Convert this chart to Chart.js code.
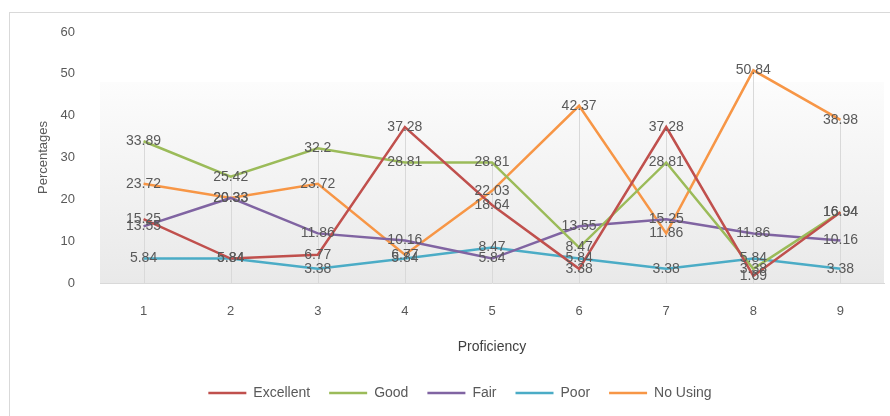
<!DOCTYPE html>
<html>
<head>
<meta charset="utf-8">
<script src="https://cdn.jsdelivr.net/npm/chart.js@4"></script>
<style>
  html, body { margin:0; padding:0; background:#fff; }
  #wrap { position:relative; width:890px; height:416px; overflow:hidden; }
  #frame { position:absolute; left:9px; top:12px; width:900px; height:420px; border:1px solid #d9d9d9; box-sizing:border-box; }
  #ch-prof { position:absolute; left:0; top:0; }
</style>
</head>
<body>
<div id="wrap">
  <div id="frame"></div>
  <canvas id="ch-prof" width="890" height="416"></canvas>
</div>
<script>
// ====================== DATA ======================
const levels    = ['1','2','3','4','5','6','7','8','9'];
const excellent = [15.25, 5.84, 6.77, 37.28, 18.64, 3.38, 37.28, 1.69, 16.94];
const good      = [33.89, 25.42, 32.2, 28.81, 28.81, 8.47, 28.81, 3.38, 16.94];
const fair      = [13.55, 20.33, 11.86, 10.16, 5.84, 13.55, 15.25, 11.86, 10.16];
const poor      = [5.84, 5.84, 3.38, 5.84, 8.47, 5.84, 3.38, 5.84, 3.38];
const noUsing   = [23.72, 20.33, 23.72, 6.77, 22.03, 42.37, 11.86, 50.84, 38.98];

const FONT = "'Liberation Sans', Arial, sans-serif";
const GREY = '#595959';

// gradient wall behind the plot
const wallPlugin = {
  id: 'wall',
  beforeDraw(chart) {
    const { ctx, chartArea: a } = chart;
    const g = ctx.createLinearGradient(0, a.top, 0, a.bottom);
    g.addColorStop(0, '#ffffff');
    g.addColorStop(0.2, '#fcfcfc');
    g.addColorStop(1, '#e9e9e9');
    ctx.save();
    ctx.fillStyle = g;
    ctx.fillRect(a.left, a.top + 50, a.right - a.left, a.bottom - a.top - 50);
    ctx.restore();
  }
};

// vertical drop lines from the highest value of each category
const dropPlugin = {
  id: 'drops',
  beforeDatasetsDraw(chart) {
    const { ctx, scales: { x, y } } = chart;
    ctx.save();
    ctx.strokeStyle = '#d9d9d9';
    ctx.lineWidth = 1;
    levels.forEach((lv, i) => {
      const top = Math.max(...chart.data.datasets.map(d => d.data[i]));
      const px = Math.round(x.getPixelForValue(i)) + 0.5;
      ctx.beginPath();
      ctx.moveTo(px, y.getPixelForValue(top));
      ctx.lineTo(px, y.getPixelForValue(0));
      ctx.stroke();
    });
    ctx.restore();
  }
};

// value labels centred on each point
const labelPlugin = {
  id: 'valueLabels',
  afterDatasetsDraw(chart) {
    const { ctx } = chart;
    ctx.save();
    ctx.font = '14px ' + FONT;
    ctx.fillStyle = GREY;
    ctx.textAlign = 'center';
    ctx.textBaseline = 'middle';
    chart.data.datasets.forEach((ds, di) => {
      chart.getDatasetMeta(di).data.forEach((pt, i) => {
        ctx.fillText(String(ds.data[i]), pt.x, pt.y);
      });
    });
    ctx.restore();
  }
};

const mk = (label, data, color) => ({
  label, data, borderColor: color, backgroundColor: color,
  borderWidth: 2.5, pointRadius: 0, tension: 0, fill: false
});

new Chart(document.getElementById('ch-prof'), {
  type: 'line',
  data: {
    labels: levels,
    datasets: [
      mk('Excellent', excellent, '#C0504D'),
      mk('Good', good, '#9BBB59'),
      mk('Fair', fair, '#8064A2'),
      mk('Poor', poor, '#4BACC6'),
      mk('No Using', noUsing, '#F79646')
    ]
  },
  options: {
    responsive: false,
    animation: false,
    layout: { padding: { left: 36, right: 6, top: 32, bottom: 6 } },
    plugins: {
      tooltip: { enabled: false },
      legend: {
        position: 'bottom',
        labels: {
          usePointStyle: true, pointStyle: 'line', pointStyleWidth: 38,
          boxHeight: 14, padding: 19,
          color: GREY, font: { family: FONT, size: 14 }
        }
      }
    },
    scales: {
      x: {
        offset: true,
        grid: { display: true, drawOnChartArea: false, drawTicks: false },
        border: { color: '#d9d9d9' },
        ticks: { color: GREY, font: { family: FONT, size: 13 }, padding: 21 },
        title: { display: true, text: 'Proficiency', color: '#404040', font: { family: FONT, size: 14 }, padding: { top: 16, bottom: 11 } },
        afterFit: s => { s.height = 84; }
      },
      y: {
        min: 0, max: 60,
        grid: { display: false },
        border: { display: false },
        ticks: { stepSize: 10, color: GREY, font: { family: FONT, size: 13 }, padding: 17 },
        title: { display: true, text: 'Percentages', color: GREY, font: { family: FONT, size: 13 }, padding: { top: 0, bottom: 0 } },
        afterFit: s => { s.width = 64; }
      }
    }
  },
  plugins: [wallPlugin, dropPlugin, labelPlugin]
});
</script>
</body>
</html>
